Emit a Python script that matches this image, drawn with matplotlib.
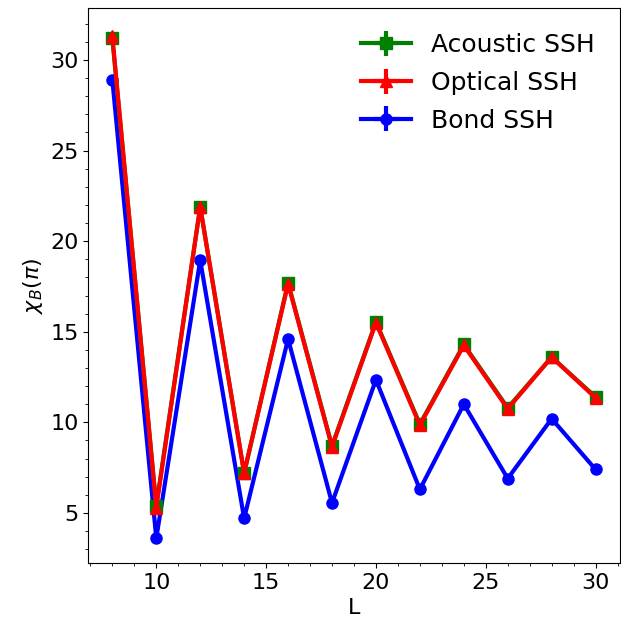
import matplotlib
matplotlib.use("Agg")
import matplotlib.pyplot as plt
from matplotlib.ticker import AutoMinorLocator

L = [8, 10, 12, 14, 16, 18, 20, 22, 24, 26, 28, 30]
acoustic = [31.2, 5.4, 21.9, 7.2, 17.7, 8.7, 15.55, 9.9, 14.3, 10.8, 13.6, 11.4]
optical = [31.3, 5.3, 21.9, 7.2, 17.65, 8.65, 15.5, 9.85, 14.25, 10.75, 13.6, 11.35]
bond = [28.9, 3.6, 18.95, 4.7, 14.6, 5.55, 12.35, 6.3, 11.0, 6.9, 10.2, 7.4]

plt.rcParams['font.size'] = 16
fig = plt.figure(figsize=(6.21, 6.29), dpi=100)
ax = fig.add_axes([0.142, 0.105, 0.856, 0.882])

ax.errorbar(L, acoustic, xerr=0, yerr=0, color='green', marker='s', ms=8, lw=3,
            label='Acoustic SSH', zorder=2)
ax.errorbar(L, optical, xerr=0, yerr=0, color='red', marker='^', ms=9, lw=3,
            label='Optical SSH', zorder=3)
ax.errorbar(L, bond, xerr=0, yerr=0, color='blue', marker='o', ms=8, lw=3,
            label='Bond SSH', zorder=1)

ax.set_xlim(6.9, 31.1)
ax.set_ylim(2.24, 32.86)
ax.set_xlabel('L', fontsize=16)
ax.set_ylabel(r'$\chi_B(\pi)$', fontsize=16)
ax.xaxis.set_minor_locator(AutoMinorLocator())
ax.yaxis.set_minor_locator(AutoMinorLocator())
ax.tick_params(labelsize=16)
ax.legend(frameon=False, fontsize=18, loc='upper right', labelspacing=0.55,
          borderaxespad=0.6)

fig.savefig('out.png', dpi=100)
